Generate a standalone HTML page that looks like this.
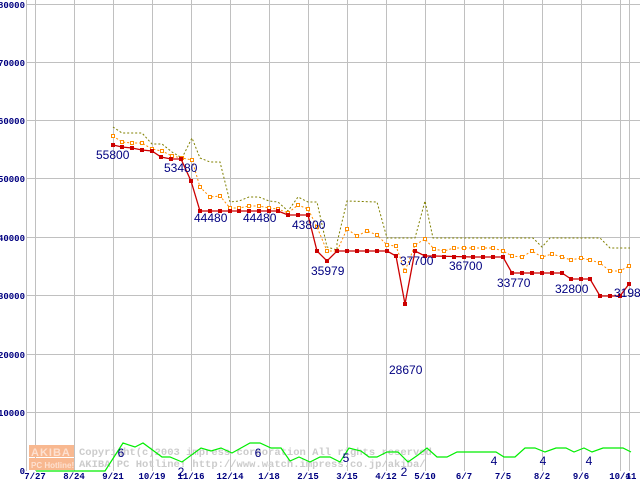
<!DOCTYPE html>
<html><head><style>body{margin:0;background:#fff}svg{display:block}</style></head><body>
<svg width="640" height="480" xmlns="http://www.w3.org/2000/svg" font-family="Liberation Sans, sans-serif">
<rect width="640" height="480" fill="#fff"/>
<g stroke="#c0c0c0" stroke-width="1">
<line x1="26.5" y1="0" x2="26.5" y2="471"/>
<line x1="26" y1="4.5" x2="640" y2="4.5"/><line x1="26" y1="62.5" x2="640" y2="62.5"/>
<line x1="26" y1="120.5" x2="640" y2="120.5"/><line x1="26" y1="178.5" x2="640" y2="178.5"/>
<line x1="26" y1="237.5" x2="640" y2="237.5"/><line x1="26" y1="295.5" x2="640" y2="295.5"/>
<line x1="26" y1="354.5" x2="640" y2="354.5"/><line x1="26" y1="412.5" x2="640" y2="412.5"/>
<line x1="35.5" y1="0" x2="35.5" y2="471"/><line x1="74.5" y1="0" x2="74.5" y2="471"/>
<line x1="113.5" y1="0" x2="113.5" y2="471"/><line x1="152.5" y1="0" x2="152.5" y2="471"/>
<line x1="191.5" y1="0" x2="191.5" y2="471"/><line x1="230.5" y1="0" x2="230.5" y2="471"/>
<line x1="269.5" y1="0" x2="269.5" y2="471"/><line x1="308.5" y1="0" x2="308.5" y2="471"/>
<line x1="347.5" y1="0" x2="347.5" y2="471"/><line x1="386.5" y1="0" x2="386.5" y2="471"/>
<line x1="425.5" y1="0" x2="425.5" y2="471"/><line x1="464.5" y1="0" x2="464.5" y2="471"/>
<line x1="503.5" y1="0" x2="503.5" y2="471"/><line x1="542.5" y1="0" x2="542.5" y2="471"/>
<line x1="581.5" y1="0" x2="581.5" y2="471"/><line x1="620.5" y1="0" x2="620.5" y2="471"/>
<line x1="629.5" y1="0" x2="629.5" y2="471"/>
</g>
<g font-family="Liberation Mono, monospace" font-size="9" font-weight="bold" fill="#000080" text-anchor="end">
<text x="25" y="8">80000</text><text x="25" y="66">70000</text><text x="25" y="124">60000</text>
<text x="25" y="182">50000</text><text x="25" y="241">40000</text><text x="25" y="299">30000</text>
<text x="25" y="358">20000</text><text x="25" y="416">10000</text><text x="25" y="474">0</text>
</g>
<g font-family="Liberation Mono, monospace" font-size="9" font-weight="bold" fill="#000080" text-anchor="middle">
<text x="35" y="479">7/27</text><text x="74" y="479">8/24</text><text x="113" y="479">9/21</text>
<text x="152" y="479">10/19</text><text x="191" y="479">11/16</text><text x="230" y="479">12/14</text>
<text x="269" y="479">1/18</text><text x="308" y="479">2/15</text><text x="347" y="479">3/15</text>
<text x="386" y="479">4/12</text><text x="425" y="479">5/10</text><text x="464" y="479">6/7</text>
<text x="503" y="479">7/5</text><text x="542" y="479">8/2</text><text x="581" y="479">9/6</text>
<text x="620" y="479">10/4</text><text x="631" y="479">11</text>
</g>
<rect x="29" y="445" width="45" height="12" fill="#f8b890"/>
<rect x="29" y="458" width="45" height="12" fill="#f8b890"/>
<text x="31" y="456" font-size="11" font-weight="bold" fill="#fde0d0" letter-spacing="1">AKIBA</text>
<text x="31" y="468" font-size="8" font-weight="bold" fill="#fde0d0">PC Hotline!</text>
<g font-family="Liberation Mono, monospace" font-size="10.5" font-weight="bold" fill="#cccccc">
<text x="79" y="455">Copyright(c)2003 impress corporation All rights reserved</text>
<text x="79" y="467">AKIBA PC Hotline!  http://www.watch.impress.co.jp/akiba/</text>
</g>
<polyline fill="none" stroke="#00ee00" stroke-width="1.2" points="36,471 105,471 123,443 135,447 143,443 162,457 170,457 182,462 201,448 211,451 221,448 232,453 250,443 260,443 271,448 281,448 290,461 299,457 310,462 320,457 330,457 340,462 349,448 361,451 369,457 377,457 387,452 398,452 408,462 418,455 427,448 437,457 447,457 457,452 496,452 504,457 515,457 525,448 535,448 545,452 556,448 566,448 574,452 584,448 592,452 603,448 623,448 631,452"/>
<g font-size="12" fill="#000080" text-anchor="middle">
<text x="121" y="457">6</text><text x="181" y="476">2</text><text x="258" y="457">6</text>
<text x="346" y="462">5</text><text x="404" y="476">2</text><text x="494" y="465">4</text>
<text x="543" y="465">4</text><text x="589" y="465">4</text>
</g>
<polyline fill="none" stroke="#808000" stroke-width="1" stroke-dasharray="2,2" points="113,127 122,133 142,133 152,144 162,144 172,152 182,158 192,138 200,158 210,162 220,162 230,202 239,201 249,197 259,197 269,201 278,202 288,211 298,197 308,202 317,202 327,247 337,250 337,243 347,201 377,202 387,238 415,238 425,201 433,238 533,238 542,247 550,238 600,238 610,248 630,248"/>
<polyline fill="none" stroke="#ff8c00" stroke-width="1" stroke-dasharray="2,2" points="113,136 122,142 132,143 142,143 152,149 162,151 172,156 182,158 192,160 200,187 210,197 220,196 230,208 239,208 249,206 259,206 269,208 278,209 288,213 298,205 308,209 317,227 327,251 337,251 347,229 357,236 367,231 377,235 387,245 396,246 405,271 415,245 425,239 434,249 444,251 454,248 493,248 503,251 512,256 522,257 532,251 542,257 552,254 562,257 571,260 581,258 590,260 600,263 610,271 620,271 629,266"/>
<g fill="#fff" stroke="#ff8c00" stroke-width="1">
<rect x="111.5" y="134.5" width="3" height="3"/><rect x="120.5" y="140.5" width="3" height="3"/><rect x="130.5" y="141.5" width="3" height="3"/><rect x="140.5" y="141.5" width="3" height="3"/><rect x="150.5" y="147.5" width="3" height="3"/><rect x="160.5" y="149.5" width="3" height="3"/><rect x="170.5" y="154.5" width="3" height="3"/><rect x="180.5" y="156.5" width="3" height="3"/><rect x="190.5" y="158.5" width="3" height="3"/><rect x="198.5" y="185.5" width="3" height="3"/><rect x="208.5" y="195.5" width="3" height="3"/><rect x="218.5" y="194.5" width="3" height="3"/><rect x="228.5" y="206.5" width="3" height="3"/><rect x="237.5" y="206.5" width="3" height="3"/><rect x="247.5" y="204.5" width="3" height="3"/><rect x="257.5" y="204.5" width="3" height="3"/><rect x="267.5" y="206.5" width="3" height="3"/><rect x="276.5" y="207.5" width="3" height="3"/><rect x="286.5" y="211.5" width="3" height="3"/><rect x="296.5" y="203.5" width="3" height="3"/><rect x="306.5" y="207.5" width="3" height="3"/><rect x="315.5" y="225.5" width="3" height="3"/><rect x="325.5" y="249.5" width="3" height="3"/><rect x="345.5" y="227.5" width="3" height="3"/><rect x="355.5" y="234.5" width="3" height="3"/><rect x="365.5" y="229.5" width="3" height="3"/><rect x="375.5" y="233.5" width="3" height="3"/><rect x="385.5" y="243.5" width="3" height="3"/><rect x="394.5" y="244.5" width="3" height="3"/><rect x="403.5" y="269.5" width="3" height="3"/><rect x="413.5" y="243.5" width="3" height="3"/><rect x="423.5" y="237.5" width="3" height="3"/><rect x="432.5" y="247.5" width="3" height="3"/><rect x="442.5" y="249.5" width="3" height="3"/><rect x="452.5" y="246.5" width="3" height="3"/><rect x="462.5" y="246.5" width="3" height="3"/><rect x="471.5" y="246.5" width="3" height="3"/><rect x="481.5" y="246.5" width="3" height="3"/><rect x="491.5" y="246.5" width="3" height="3"/><rect x="501.5" y="249.5" width="3" height="3"/><rect x="510.5" y="254.5" width="3" height="3"/><rect x="520.5" y="255.5" width="3" height="3"/><rect x="530.5" y="249.5" width="3" height="3"/><rect x="540.5" y="255.5" width="3" height="3"/><rect x="550.5" y="252.5" width="3" height="3"/><rect x="560.5" y="255.5" width="3" height="3"/><rect x="569.5" y="258.5" width="3" height="3"/><rect x="579.5" y="256.5" width="3" height="3"/><rect x="588.5" y="258.5" width="3" height="3"/><rect x="598.5" y="261.5" width="3" height="3"/><rect x="608.5" y="269.5" width="3" height="3"/><rect x="618.5" y="269.5" width="3" height="3"/><rect x="627.5" y="264.5" width="3" height="3"/>
</g>
<polyline fill="none" stroke="#cc0000" stroke-width="1.3" points="113,145 122,147 132,148 142,150 152,151 161,157 171,159 181,159 191,181 200,211 278,211 288,215 308,215 317,251 327,261 337,251 387,251 396,256 405,304 415,251 425,256 434,256 473,257 503,257 512,273 562,273 571,279 590,279 600,296 620,296 629,284"/>
<g fill="#cc0000">
<rect x="111" y="143" width="4" height="4"/><rect x="120" y="145" width="4" height="4"/><rect x="130" y="146" width="4" height="4"/><rect x="140" y="148" width="4" height="4"/><rect x="150" y="149" width="4" height="4"/><rect x="159" y="155" width="4" height="4"/><rect x="169" y="157" width="4" height="4"/><rect x="179" y="157" width="4" height="4"/><rect x="189" y="179" width="4" height="4"/><rect x="198" y="209" width="4" height="4"/><rect x="208" y="209" width="4" height="4"/><rect x="218" y="209" width="4" height="4"/><rect x="228" y="209" width="4" height="4"/><rect x="237" y="209" width="4" height="4"/><rect x="247" y="209" width="4" height="4"/><rect x="257" y="209" width="4" height="4"/><rect x="267" y="209" width="4" height="4"/><rect x="276" y="209" width="4" height="4"/><rect x="286" y="213" width="4" height="4"/><rect x="296" y="213" width="4" height="4"/><rect x="306" y="213" width="4" height="4"/><rect x="315" y="249" width="4" height="4"/><rect x="325" y="259" width="4" height="4"/><rect x="335" y="249" width="4" height="4"/><rect x="345" y="249" width="4" height="4"/><rect x="355" y="249" width="4" height="4"/><rect x="365" y="249" width="4" height="4"/><rect x="375" y="249" width="4" height="4"/><rect x="385" y="249" width="4" height="4"/><rect x="394" y="254" width="4" height="4"/><rect x="403" y="302" width="4" height="4"/><rect x="413" y="249" width="4" height="4"/><rect x="423" y="254" width="4" height="4"/><rect x="432" y="254" width="4" height="4"/><rect x="442" y="255" width="4" height="4"/><rect x="452" y="255" width="4" height="4"/><rect x="462" y="255" width="4" height="4"/><rect x="471" y="255" width="4" height="4"/><rect x="481" y="255" width="4" height="4"/><rect x="491" y="255" width="4" height="4"/><rect x="501" y="255" width="4" height="4"/><rect x="510" y="271" width="4" height="4"/><rect x="520" y="271" width="4" height="4"/><rect x="530" y="271" width="4" height="4"/><rect x="540" y="271" width="4" height="4"/><rect x="550" y="271" width="4" height="4"/><rect x="560" y="271" width="4" height="4"/><rect x="569" y="277" width="4" height="4"/><rect x="579" y="277" width="4" height="4"/><rect x="588" y="277" width="4" height="4"/><rect x="598" y="294" width="4" height="4"/><rect x="608" y="294" width="4" height="4"/><rect x="618" y="294" width="4" height="4"/><rect x="627" y="282" width="4" height="4"/>
</g>
<g font-size="12" fill="#000080">
<text x="96" y="159">55800</text><text x="164" y="172">53480</text>
<text x="194" y="222">44480</text><text x="243" y="222">44480</text>
<text x="292" y="229">43800</text><text x="311" y="275">35979</text>
<text x="389" y="374">28670</text><text x="400" y="265">37700</text>
<text x="449" y="270">36700</text><text x="497" y="287">33770</text>
<text x="555" y="293">32800</text><text x="614" y="297">31980</text>
</g>
</svg>
</body></html>
